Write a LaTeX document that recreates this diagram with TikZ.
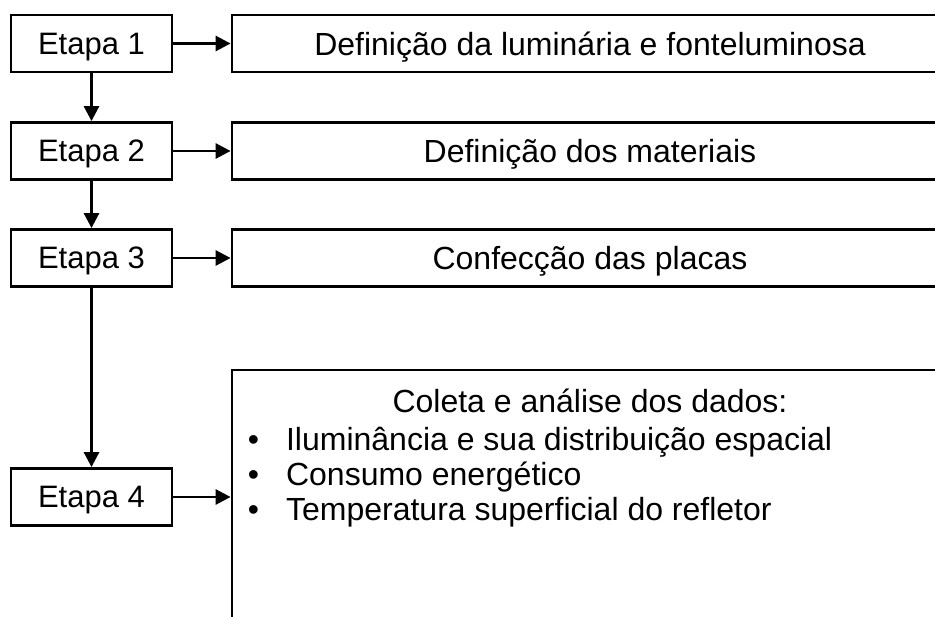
\documentclass[tikz,border=0pt]{standalone}
\usepackage{fontspec}
\setmainfont{Liberation Sans}
\usetikzlibrary{arrows.meta}

\begin{document}
\begin{tikzpicture}[x=1pt,y=-1pt,line width=2.8pt,
    stage/.style={draw,minimum width=161pt,minimum height=57pt,inner sep=0pt,
      text depth=0pt,font=\fontsize{31}{35}\selectfont},
    task/.style={draw,minimum width=716pt,minimum height=57pt,inner sep=0pt,
      text depth=0pt},
    flow/.style={-{Triangle[length=15pt,width=15pt]}}]

      \clip (0,0) rectangle (935,617);

      \begin{scope}[every node/.style={font=\fontsize{32}{35}\selectfont}]
        \node[stage] (e1) at (91.5,43.5) {Etapa 1};
        \node[stage] (e2) at (91.5,151)  {Etapa 2};
        \node[stage] (e3) at (91.5,258)  {Etapa 3};
        \node[stage] (e4) at (91.5,497)  {Etapa 4};

        \node[task] (d1) at (590,43.5) {Definição da luminária e fonteluminosa};
        \node[task] (d2) at (590,151)  {Definição dos materiais};
        \node[task] (d3) at (590,258)  {Confecção das placas};
        \node[draw,minimum width=716pt,minimum height=290pt] (d4) at (590,515) {};

        \node (head) at (590,401) {Coleta e análise dos dados:};
        \node[anchor=north west,inner sep=0pt,align=left] (list) at (246.5,425)
          {\begin{tabular}{@{}l@{\hspace{27pt}}l@{}}
             • & Iluminância e sua distribuição espacial\\
             • & Consumo energético\\
             • & Temperatura superficial do refletor
           \end{tabular}};
      \end{scope}

      % etapas
      \path[flow] (e1) edge (e2);
      \path[flow] (e2) edge (e3);
      \path[flow] (e3) edge (e4);

      % tarefas
      \path[flow] (e1) edge (d1);
      \path[flow] (e2) edge (d2);
      \path[flow] (e3) edge (d3);
      \path[flow] (e4) edge (e4 -| d4.west);

    \end{tikzpicture}
\end{document}
